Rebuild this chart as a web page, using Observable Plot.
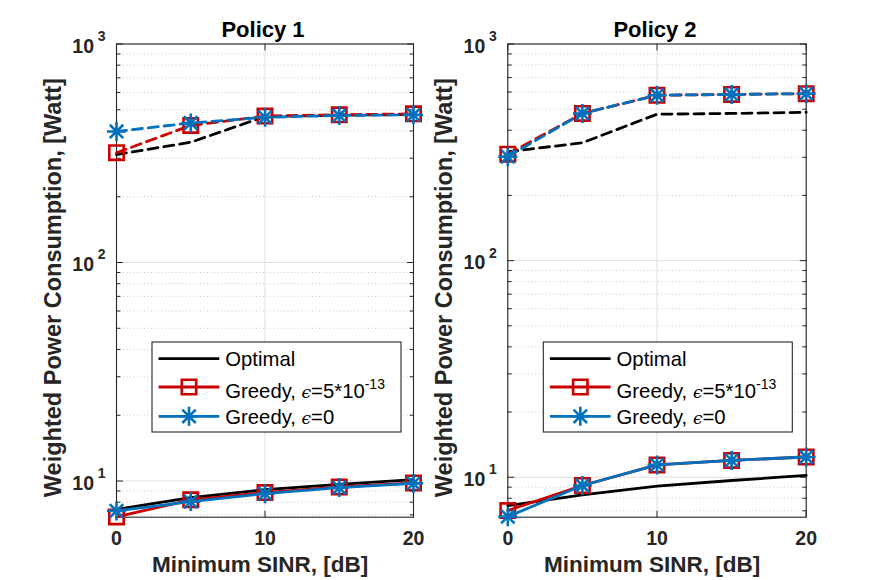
<!DOCTYPE html>
<html>
<head>
<meta charset="utf-8">
<script src="https://cdn.jsdelivr.net/npm/d3@7"></script>
<script src="https://cdn.jsdelivr.net/npm/@observablehq/plot@0.6"></script>
<style>
  body { margin: 0; background: #fff; }
  #fig { position: relative; width: 890px; height: 580px; display: flex; background: #fff; }
  #fig svg { overflow: visible; display: block; }
</style>
</head>
<body>
<div id="fig"></div>
<script>
// ---- data -------------------------------------------------------------
const sinr = [0, 5, 10, 15, 20];          // Minimum SINR [dB]
const xTicks = [0, 10, 20];
const decades = [10, 100, 1000];
const decadeExp = ["1", "2", "3"];
const titles = ["Policy 1", "Policy 2"];
const xLabel = "Minimum SINR, [dB]";
const yLabel = "Weighted Power Consumption, [Watt]";
const legendNames = ["Optimal", "Greedy, ", "Greedy, "];
const legendEps = ["", "=5*10", "=0"];
const legendSup = ["", "-13", ""];

// Policy 1 — upper (dashed) and lower (solid) curves
const p1UpOptimal = [312, 355, 466, 472, 476];
const p1UpGreedyEps = [318, 424, 468, 474, 479];
const p1UpGreedyZero = [398, 435, 462, 471, 474];
const p1LowOptimal = [7.42, 8.4, 9.13, 9.66, 10.15];
const p1LowGreedyEps = [6.85, 8.2, 8.85, 9.4, 9.8];
const p1LowGreedyZero = [7.3, 8.05, 8.75, 9.33, 9.75];

// Policy 2
const p2UpOptimal = [318, 350, 474, 478, 484];
const p2UpGreedyEps = [310, 478, 580, 585, 590];
const p2UpGreedyZero = [302, 478, 580, 585, 590];
const p2LowOptimal = [7.4, 8.3, 9.1, 9.66, 10.2];
const p2LowGreedyEps = [7.02, 9.16, 11.4, 11.96, 12.4];
const p2LowGreedyZero = [6.58, 9.16, 11.4, 11.96, 12.4];

// ---- styling ----------------------------------------------------------
const FONT = "'Liberation Sans', Arial, Helvetica, sans-serif";
const AX = "#262626";
const BLACK = "#000000";
const RED = "#CC0000";
const BLUE = "#0072BD";
const LW = 2.8;
const MW = 2.6;
const DASH = "10,6";

// open square and 8-armed asterisk markers
const squareSym = {
  draw(ctx, size) {
    const r = Math.sqrt(size / Math.PI);
    ctx.moveTo(-r, -r); ctx.lineTo(r, -r); ctx.lineTo(r, r); ctx.lineTo(-r, r); ctx.closePath();
  }
};
const starSym = {
  draw(ctx, size) {
    const r = Math.sqrt(size / Math.PI);
    for (let i = 0; i < 4; i++) {
      const a = i * Math.PI / 4;
      ctx.moveTo(-r * Math.cos(a), -r * Math.sin(a));
      ctx.lineTo(r * Math.cos(a), r * Math.sin(a));
    }
  }
};

// straight tick segment for Plot.vector
const tickShape = { draw(ctx, l) { ctx.moveTo(0, 0); ctx.lineTo(0, -l); } };

const xAt = (d, i) => sinr[i];
const yVal = d => d;

function curve(values, stroke, dash) {
  return Plot.line(values, { x: xAt, y: yVal, stroke, strokeWidth: LW, strokeDasharray: dash });
}
function markers(values, stroke, sym, r) {
  return Plot.dot(values, { x: xAt, y: yVal, stroke, fill: "none", strokeWidth: MW, symbol: sym, r });
}

function panel(cfg) {
  const { title, lo, width, marginLeft, marginRight, up, low } = cfg;
  const minor = [];
  for (const d of [1, 10, 100]) for (let k = 2; k <= 9; k++) {
    const v = k * d;
    if (v > lo && v < 1000) minor.push(v);
  }
  const vtick = (data, opts) => Plot.vector(data, { anchor: "start", shape: tickShape, stroke: AX, strokeWidth: 1, ...opts });
  const svg = Plot.plot({
    width, height: 580,
    marginLeft, marginRight, marginTop: 43.5, marginBottom: 63.3,
    style: { fontFamily: FONT, background: "white", overflow: "visible" },
    x: { domain: [0, 20], axis: null },
    y: { type: "log", domain: [lo, 1000], axis: null },
    marks: [
      // grid
      Plot.ruleY(minor, { stroke: "#c4c4c4", strokeDasharray: "1,2.5", strokeWidth: 0.9 }),
      Plot.ruleY(decades, { stroke: "#dfdfdf", strokeWidth: 1 }),
      Plot.ruleX(xTicks, { stroke: "#dfdfdf", strokeWidth: 1 }),
      // box and inward ticks
      Plot.frame({ stroke: AX, strokeWidth: 1.1 }),
      vtick(decades, { y: yVal, frameAnchor: "left", rotate: 90, length: 6 }),
      vtick(decades, { y: yVal, frameAnchor: "right", rotate: -90, length: 6 }),
      vtick(minor, { y: yVal, frameAnchor: "left", rotate: 90, length: 3.5 }),
      vtick(minor, { y: yVal, frameAnchor: "right", rotate: -90, length: 3.5 }),
      vtick(xTicks, { x: yVal, frameAnchor: "bottom", rotate: 0, length: 6 }),
      vtick(xTicks, { x: yVal, frameAnchor: "top", rotate: 180, length: 6 }),
      // Optimal
      curve(up[0], BLACK, DASH),
      curve(low[0], BLACK, null),
      // Greedy, eps = 5e-13
      curve(up[1], RED, DASH),
      markers(up[1], RED, squareSym, 7.2),
      curve(low[1], RED, null),
      markers(low[1], RED, squareSym, 7.2),
      // Greedy, eps = 0
      curve(up[2], BLUE, DASH),
      markers(up[2], BLUE, starSym, 9.5),
      curve(low[2], BLUE, null),
      markers(low[2], BLUE, starSym, 9.5),
      // tick labels
      Plot.text(decades, { y: yVal, frameAnchor: "left", text: () => "10", textAnchor: "end", lineAnchor: "middle",
        dx: -22.5, dy: 2.5, fontSize: 19.5, fontWeight: "bold", fill: AX }),
      Plot.text(decades, { y: yVal, frameAnchor: "left", text: (d, i) => decadeExp[i], textAnchor: "end", lineAnchor: "middle",
        dx: -11, dy: -7.5, fontSize: 14, fontWeight: "bold", fill: AX }),
      Plot.text(xTicks, { x: yVal, frameAnchor: "bottom", text: d => String(d), lineAnchor: "middle",
        dy: 21.5, fontSize: 19.5, fontWeight: "bold", fill: AX }),
      // titles and axis labels
      Plot.text([title], { frameAnchor: "top", text: d => d, lineAnchor: "middle", textAnchor: "middle",
        dy: -14, dx: -2, fontSize: 22, fontWeight: "bold", fill: BLACK }),
      Plot.text([xLabel], { frameAnchor: "bottom", text: d => d, lineAnchor: "middle", textAnchor: "middle",
        dy: 48, dx: -5, fontSize: 22.5, fontWeight: "bold", fill: AX }),
      Plot.text([yLabel], { frameAnchor: "left", text: d => d, rotate: -90, lineAnchor: "middle", textAnchor: "middle",
        dx: -63, dy: 7, fontSize: 23.5, fontWeight: "bold", fill: AX })
    ]
  });
  addLegend(svg, marginLeft + 36, 43.5 + 298.5);
  return svg;
}

function addLegend(svg, left, top) {
  const g = d3.select(svg).append("g")
    .attr("font-family", FONT).attr("font-size", 20.3).attr("fill", BLACK)
    .attr("text-anchor", "start");
  g.append("rect")
    .attr("x", left).attr("y", top).attr("width", 249).attr("height", 90)
    .attr("fill", "white").attr("stroke", AX).attr("stroke-width", 1.1);
  const colors = [BLACK, RED, BLUE];
  const syms = [null, squareSym, starSym];
  const radii = [0, 7.2, 9.5];
  const rowY = [16.6, 45, 74.3];
  const textShift = [7, 10.8, 7.4];
  legendNames.forEach((name, i) => {
    const y = top + rowY[i];
    g.append("line")
      .attr("x1", left + 6.6).attr("x2", left + 67.3).attr("y1", y).attr("y2", y)
      .attr("stroke", colors[i]).attr("stroke-width", LW);
    if (syms[i]) {
      g.append("path")
        .attr("transform", `translate(${left + 37},${y})`)
        .attr("d", d3.symbol(syms[i], Math.PI * radii[i] * radii[i])())
        .attr("fill", "none").attr("stroke", colors[i]).attr("stroke-width", MW);
    }
    const t = g.append("text").attr("x", left + 73.3).attr("y", y + textShift[i]);
    t.append("tspan").text(name);
    if (legendEps[i]) {
      t.append("tspan").attr("font-family", "'DejaVu Serif', serif").attr("font-style", "italic")
        .attr("font-size", 17).text("\u03F5");
      t.append("tspan").text(legendEps[i]);
    }
    if (legendSup[i]) {
      t.append("tspan").attr("font-size", 14).attr("dy", -8.5).text(legendSup[i]);
    }
  });
}

const fig = document.getElementById("fig");
fig.append(panel({
  title: titles[0], lo: 6.83, width: 430, marginLeft: 116, marginRight: 17,
  up: [p1UpOptimal, p1UpGreedyEps, p1UpGreedyZero],
  low: [p1LowOptimal, p1LowGreedyEps, p1LowGreedyZero]
}));
fig.append(panel({
  title: titles[1], lo: 6.54, width: 460, marginLeft: 77.3, marginRight: 84.3,
  up: [p2UpOptimal, p2UpGreedyEps, p2UpGreedyZero],
  low: [p2LowOptimal, p2LowGreedyEps, p2LowGreedyZero]
}));
</script>
</body>
</html>
